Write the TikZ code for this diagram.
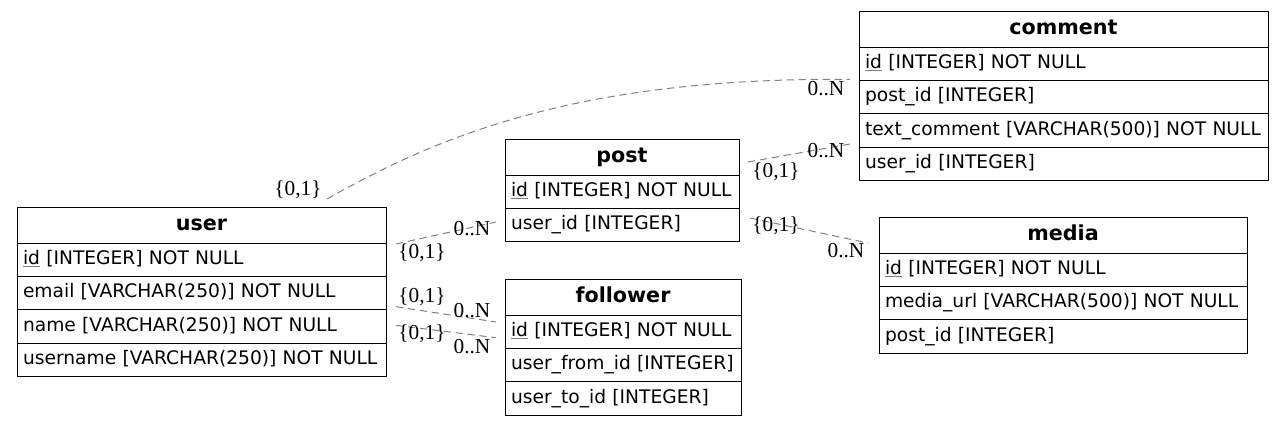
\documentclass[tikz,border=0pt]{standalone}
\usepackage{fontspec}
\usepackage{tikz}
\usetikzlibrary{calc}
\usetikzlibrary{positioning}
\newfontfamily\dejavu{DejaVu Sans}
\newfontfamily\cardfont{Liberation Serif}
\newcommand{\pk}[1]{\textcolor{gray}{\underline{\textcolor{black}{#1}}}}
\definecolor{linkgray}{RGB}{128,128,128}
\tikzset{
  head/.style={draw, line width=0.75pt, outer sep=0pt, font=\dejavu\bfseries\fontsize{15.5}{17}\selectfont,
    minimum height=27pt, inner xsep=4.5pt, inner ysep=0pt, text width=#1, align=center,
    text height=11pt, text depth=3.5pt},
  field/.style={draw, line width=0.75pt, outer sep=0pt, font=\dejavu\fontsize{14}{16}\selectfont,
    minimum height=25pt, inner xsep=4.5pt, inner ysep=0pt, text width=#1, align=left,
    text height=10.5pt, text depth=3.5pt},
  card/.style={font=\cardfont\fontsize{16}{18}\selectfont, inner sep=0pt},
  link/.style={draw=linkgray, line width=0.75pt, dash pattern=on 5.5pt off 3.5pt},
}
\begin{document}
\begin{tikzpicture}[x=0.75pt,y=-0.75pt]
  \useasboundingbox (0,0) rectangle (1284,426);
  % user
  \node[head=267.75pt,anchor=north west] (user-h) at (17,207) {user};
  \node[field=267.75pt,below=0pt of user-h] (user-id) {\pk{id} [INTEGER] NOT NULL};
  \node[field=267.75pt,below=0pt of user-id] (user-email) {email [VARCHAR(250)] NOT NULL};
  \node[field=267.75pt,below=0pt of user-email] (user-name) {name [VARCHAR(250)] NOT NULL};
  \node[field=267.75pt,below=0pt of user-name] (user-uname) {username [VARCHAR(250)] NOT NULL};
  % post
  \node[head=166.5pt,anchor=north west] (post-h) at (505,139) {post};
  \node[field=166.5pt,below=0pt of post-h] (post-id) {\pk{id} [INTEGER] NOT NULL};
  \node[field=166.5pt,below=0pt of post-id] (post-uid) {user\_id [INTEGER]};
  % follower
  \node[head=168pt,anchor=north west] (follower-h) at (505,279) {follower};
  \node[field=168pt,below=0pt of follower-h] (follower-id) {\pk{id} [INTEGER] NOT NULL};
  \node[field=168pt,below=0pt of follower-id] (follower-from) {user\_from\_id [INTEGER]};
  \node[field=168pt,below=0pt of follower-from] (follower-to) {user\_to\_id [INTEGER]};
  % comment
  \node[head=297.75pt,anchor=north west] (comment-h) at (859,11) {comment};
  \node[field=297.75pt,below=0pt of comment-h] (comment-id) {\pk{id} [INTEGER] NOT NULL};
  \node[field=297.75pt,below=0pt of comment-id] (comment-pid) {post\_id [INTEGER]};
  \node[field=297.75pt,below=0pt of comment-pid] (comment-text) {text\_comment [VARCHAR(500)] NOT NULL};
  \node[field=297.75pt,below=0pt of comment-text] (comment-uid) {user\_id [INTEGER]};
  % media
  \node[head=267pt,anchor=north west] (media-h) at (879,217) {media};
  \node[field=267pt,below=0pt of media-h] (media-id) {\pk{id} [INTEGER] NOT NULL};
  \node[field=267pt,below=0pt of media-id] (media-url) {media\_url [VARCHAR(500)] NOT NULL};
  \node[field=267pt,below=0pt of media-url] (media-pid) {post\_id [INTEGER]};

  % links
  \coordinate (uc-a) at ($(user-h.north east)+(-59,-8)$);
  \coordinate (uc-b) at ($(comment-id.south west)+(-9,-1)$);
  \draw[link] (uc-a) .. controls ($(uc-a)+(113,-64)$) and ($(uc-b)+(-270,-2)$) .. (uc-b);
  \coordinate (pc-a) at ($(post-h.east)+(9,5)$);
  \coordinate (pc-b) at ($(comment-uid.north west)+(-9,-3)$);
  \draw[link] (pc-a) -- (pc-b);
  \coordinate (up-a) at ($(user-id.north east)+(10,1)$);
  \coordinate (up-b) at ($(post-uid.west)+(-9,-3)$);
  \draw[link] (up-a) -- (up-b);
  \coordinate (uf1-a) at ($(user-name.north east)+(10,-3)$);
  \coordinate (uf1-b) at ($(follower-id.north west)+(-9,7)$);
  \draw[link] (uf1-a) -- (uf1-b);
  \coordinate (uf2-a) at ($(user-name.east)+(10,-1)$);
  \coordinate (uf2-b) at ($(follower-id.west)+(-9,6)$);
  \draw[link] (uf2-a) -- (uf2-b);
  \coordinate (pm-a) at ($(post-uid.east)+(11,-7)$);
  \coordinate (pm-b) at ($(media-h.south west)+(-11,-10)$);
  \draw[link] (pm-a) -- (pm-b);

  % cardinalities
  \node[card] (uc-one) at (298,190) {\{0,1\}};
  \node[card] (uc-many) at (826,89) {0..N};
  \node[card] (pc-one) at (776,172) {\{0,1\}};
  \node[card] (pc-many) at (826,151) {0..N};
  \node[card] (up-one) at (422,253) {\{0,1\}};
  \node[card] (up-many) at (472,229) {0..N};
  \node[card] (uf1-one) at (422,297) {\{0,1\}};
  \node[card] (uf1-many) at (472,311) {0..N};
  \node[card] (uf2-one) at (422,334) {\{0,1\}};
  \node[card] (uf2-many) at (472,347) {0..N};
  \node[card] (pm-one) at (776,226) {\{0,1\}};
  \node[card] (pm-many) at (846,251) {0..N};
\end{tikzpicture}
\end{document}
